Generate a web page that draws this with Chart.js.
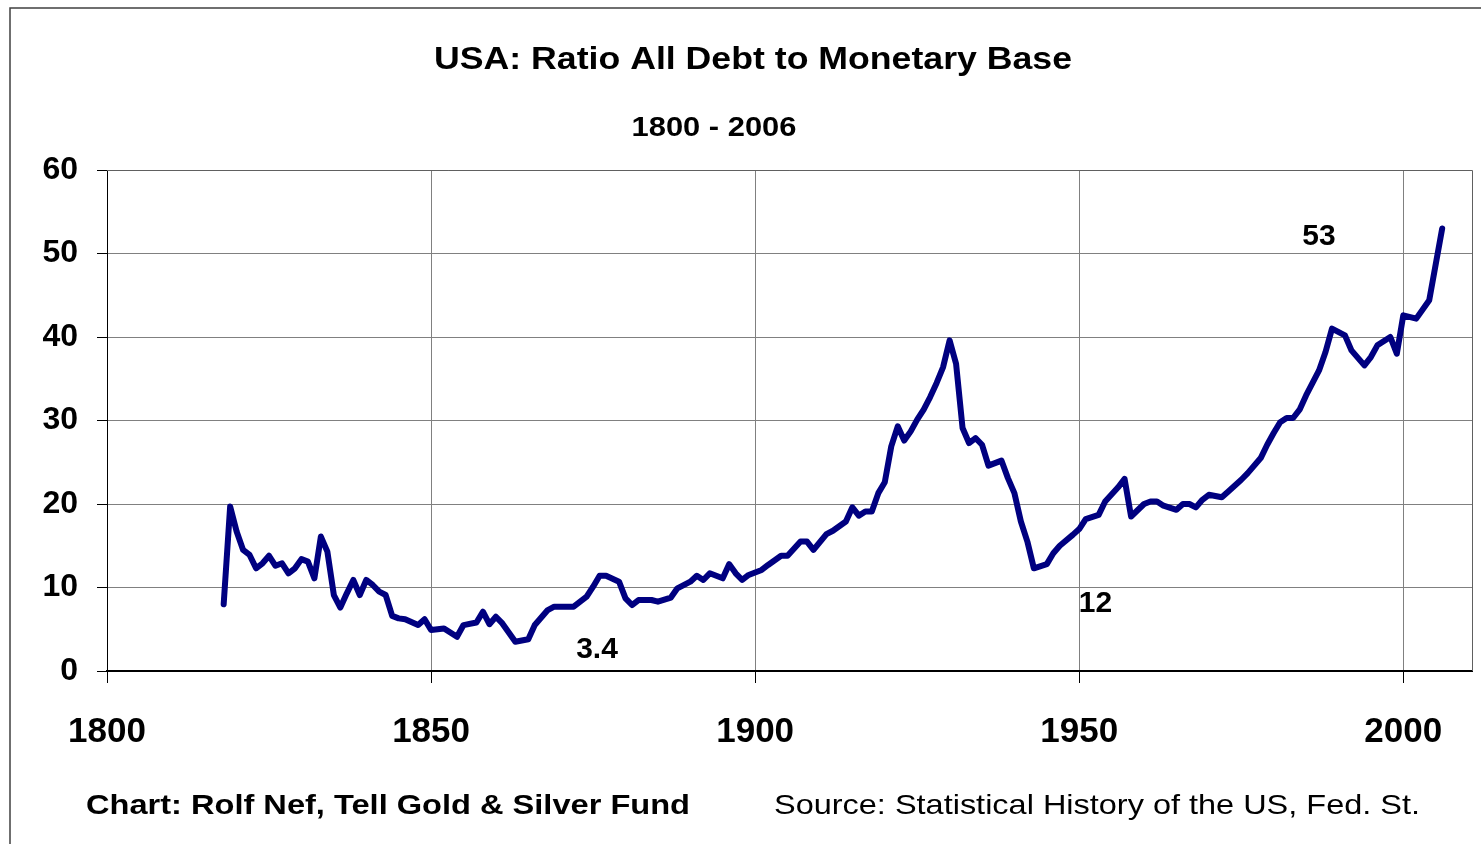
<!DOCTYPE html>
<html>
<head>
<meta charset="utf-8">
<script src="https://cdn.jsdelivr.net/npm/chart.js@4/dist/chart.umd.min.js"></script>
<style>
  body { margin: 0; background: #fff; }
  canvas { display: block; }
</style>
</head>
<body>
<canvas id="debtChart" width="1481" height="844"></canvas>
<script>
// values
const years = [
    1818, 1819, 1820, 1821, 1822, 1823, 1824, 1825, 1826, 1827, 1828, 1829,
    1830, 1831, 1832, 1833, 1834, 1835, 1836, 1837, 1838, 1839, 1840, 1841,
    1842, 1843, 1844, 1845, 1846, 1848, 1849, 1850, 1852, 1854, 1855, 1857,
    1858, 1859, 1860, 1861, 1863, 1865, 1866, 1868, 1869, 1872, 1874, 1875,
    1876, 1877, 1879, 1880, 1881, 1882, 1884, 1885, 1887, 1888, 1890, 1891,
    1892, 1893, 1895, 1896, 1897, 1898, 1899, 1901, 1902, 1904, 1905, 1907,
    1908, 1909, 1911, 1912, 1914, 1915, 1916, 1917, 1918, 1919, 1920, 1921,
    1922, 1923, 1924, 1925, 1926, 1927, 1928, 1929, 1930, 1931, 1932, 1933,
    1934, 1935, 1936, 1938, 1939, 1940, 1941, 1942, 1943, 1945, 1946, 1947,
    1949, 1950, 1951, 1953, 1954, 1956, 1957, 1958, 1960, 1961, 1962, 1963,
    1965, 1966, 1967, 1968, 1969, 1970, 1972, 1973, 1975, 1976, 1978, 1979,
    1980, 1981, 1982, 1983, 1984, 1985, 1987, 1988, 1989, 1991, 1992, 1994,
    1995, 1996, 1998, 1999, 2000, 2002, 2004, 2006
];
const ratio = [
    8.0, 19.7, 16.7, 14.5, 13.9, 12.3, 12.9, 13.8, 12.6, 12.9, 11.7, 12.3,
    13.4, 13.1, 11.1, 16.1, 14.3, 9.1, 7.6, 9.3, 10.9, 9.1, 10.9, 10.3,
    9.5, 9.1, 6.6, 6.3, 6.2, 5.5, 6.2, 4.9, 5.1, 4.1, 5.5, 5.8,
    7.1, 5.6, 6.5, 5.7, 3.5, 3.8, 5.5, 7.3, 7.7, 7.7, 8.9, 10.1,
    11.4, 11.4, 10.7, 8.7, 7.9, 8.5, 8.5, 8.3, 8.8, 9.9, 10.7, 11.4,
    10.9, 11.7, 11.1, 12.8, 11.7, 10.9, 11.5, 12.1, 12.7, 13.8, 13.8, 15.5,
    15.5, 14.5, 16.4, 16.8, 17.9, 19.6, 18.6, 19.1, 19.1, 21.3, 22.6, 26.9,
    29.3, 27.6, 28.7, 30.1, 31.3, 32.8, 34.5, 36.4, 39.6, 36.8, 29.1, 27.3,
    27.9, 27.1, 24.6, 25.2, 23.1, 21.3, 17.9, 15.5, 12.3, 12.8, 14.1, 15.0,
    16.3, 17.0, 18.2, 18.7, 20.3, 22.0, 23.0, 18.5, 20.0, 20.3, 20.3, 19.8,
    19.3, 20.0, 20.0, 19.6, 20.5, 21.1, 20.8, 21.5, 22.9, 23.7, 25.5, 27.1,
    28.5, 29.8, 30.3, 30.3, 31.3, 33.0, 36.0, 38.2, 41.0, 40.2, 38.4, 36.6,
    37.6, 39.0, 40.0, 38.0, 42.6, 42.2, 44.4, 53.0
];
const xTicks = [1800, 1850, 1900, 1950, 2000];
const yTicks = [0, 10, 20, 30, 40, 50, 60];

const chartTitle = 'USA: Ratio All Debt to Monetary Base';
const chartSubtitle = '1800 - 2006';
const creditText = 'Chart: Rolf Nef, Tell Gold & Silver Fund';
const sourceText = 'Source: Statistical History of the US, Fed. St.';

// callouts: label, year, value
const noteLabels = ['53', '12', '3.4'];
const noteYears = [1987.0, 1952.5, 1875.6];
const noteValues = [52.0, 8.0, 2.6];

const FONT = '"Liberation Sans", Arial, sans-serif';

// draws text stretched to a given width (the original is a bit wider than Arial)
const stretchText = (ctx, text, cx, cy, size, weight, width, align) => {
    ctx.save();
    ctx.font = weight + ' ' + size + 'px ' + FONT;
    const w = ctx.measureText(text).width;
    const sx = width ? width / w : 1;
    ctx.translate(cx, cy);
    ctx.scale(sx, 1);
    ctx.fillStyle = '#000';
    ctx.textAlign = align || 'center';
    ctx.textBaseline = 'middle';
    ctx.fillText(text, 0, 0);
    ctx.restore();
};

const decorPlugin = {
    id: 'decor',
    beforeDatasetsDraw(chart) {
        const { ctx, chartArea } = chart;
        ctx.save();
        ctx.strokeStyle = '#606060';
        ctx.lineWidth = 1;
        ctx.beginPath();
        ctx.moveTo(chartArea.left, chartArea.top + 0.5);
        ctx.lineTo(chartArea.right + 0.5, chartArea.top + 0.5);
        ctx.lineTo(chartArea.right + 0.5, chartArea.bottom);
        ctx.stroke();
        ctx.restore();
    },
    afterDraw(chart) {
        const { ctx, scales } = chart;

        // outer frame
        ctx.save();
        ctx.strokeStyle = '#404040';
        ctx.lineWidth = 1.5;
        ctx.beginPath();
        ctx.moveTo(10, 844);
        ctx.lineTo(10, 8);
        ctx.lineTo(1481, 8);
        ctx.stroke();
        ctx.restore();

        stretchText(ctx, chartTitle, 753, 60, 32, 'bold', 638);
        stretchText(ctx, chartSubtitle, 714, 128, 28, 'bold', 165);
        stretchText(ctx, creditText, 86, 806, 28, 'bold', 604, 'left');
        stretchText(ctx, sourceText, 774, 806, 28, 'normal', 646, 'left');

        noteLabels.forEach((label, i) => {
            const px = scales.x.getPixelForValue(noteYears[i]);
            const py = scales.y.getPixelForValue(noteValues[i]);
            stretchText(ctx, label, px, py, 30, 'bold', null);
        });
    }
};

const ctx = document.getElementById('debtChart').getContext('2d');
const debtChart = new Chart(ctx, {
    type: 'line',
    data: {
        datasets: [{
            data: years.map((yr, i) => ({ x: yr, y: ratio[i] })),
            borderColor: '#000080',
            borderWidth: 6,
            pointRadius: 0,
            tension: 0,
            fill: false,
            borderJoinStyle: 'round',
            borderCapStyle: 'round'
        }]
    },
    options: {
        responsive: false,
        animation: false,
        layout: {
            padding: { left: 0, right: 9, top: 170, bottom: 0 }
        },
        plugins: {
            legend: { display: false },
            tooltip: { enabled: false }
        },
        scales: {
            x: {
                type: 'linear',
                min: 1800,
                max: 2010.6,
                afterBuildTicks: s => { s.ticks = xTicks.map(v => ({ value: v })); },
                afterFit: s => { s.height = 173; },
                ticks: {
                    color: '#000',
                    font: { family: FONT, size: 35, weight: 'bold' },
                    padding: 28,
                    maxRotation: 0,
                    autoSkip: false,
                    includeBounds: false,
                    callback: v => String(v)
                },
                grid: { color: '#808080', lineWidth: 1, tickLength: 12, tickColor: '#000' },
                border: { color: '#000', width: 2 }
            },
            y: {
                min: 0,
                max: 60,
                afterBuildTicks: s => { s.ticks = yTicks.map(v => ({ value: v })); },
                afterFit: s => { s.width = 107; },
                ticks: {
                    color: '#000',
                    font: { family: FONT, size: 32, weight: 'bold' },
                    padding: 19,
                    callback: v => String(v)
                },
                grid: { color: '#808080', lineWidth: 1, tickLength: 10, tickColor: '#000' },
                border: { color: '#000', width: 1 }
            }
        }
    },
    plugins: [decorPlugin]
});
</script>
</body>
</html>
